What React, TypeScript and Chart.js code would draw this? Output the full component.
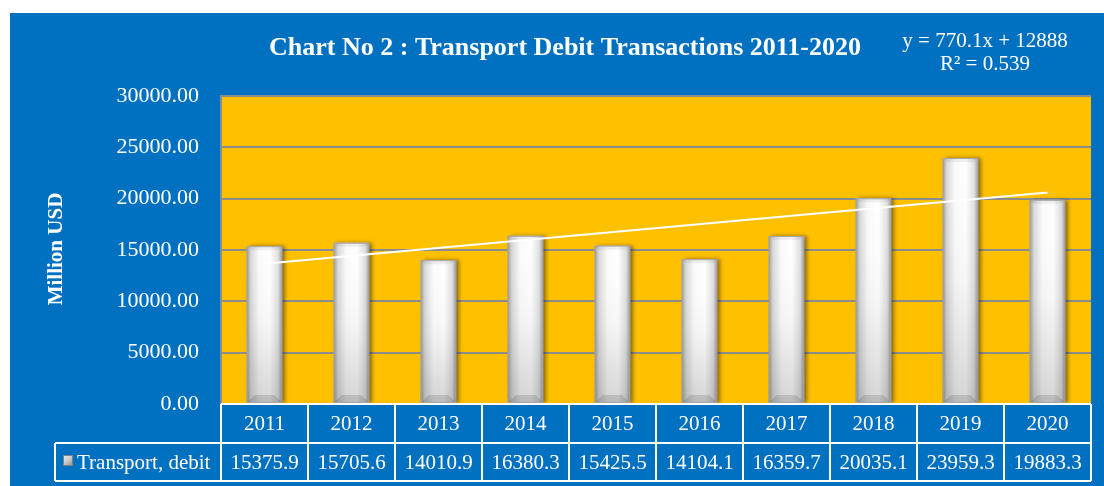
import React, { useEffect, useRef } from 'react';
import { Chart, registerables } from 'chart.js';

Chart.register(...registerables);

const categories = ['2011', '2012', '2013', '2014', '2015', '2016', '2017', '2018', '2019', '2020'];
const transportDebit = [15375.9, 15705.6, 14010.9, 16380.3, 15425.5, 14104.1, 16359.7, 20035.1, 23959.3, 19883.3];
const tableValues = ['15375.9', '15705.6', '14010.9', '16380.3', '15425.5', '14104.1', '16359.7', '20035.1', '23959.3', '19883.3'];
const trendPoints = [
  { x: '2011', y: 13658 },
  { x: '2020', y: 20589 },
];
const yMin = 0;
const yMax = 30000;
const yStep = 5000;
const chartTitle = 'Chart No 2 : Transport Debit Transactions 2011-2020';
const equationLines = ['y = 770.1x + 12888', 'R² = 0.539'];
const seriesName = 'Transport, debit';
const yAxisTitle = 'Million USD';

const BLUE = '#0070C0';
const YELLOW = '#FFC000';
const GRID = '#8c8c8c';
const FONT = '"Liberation Serif", "Times New Roman", serif';

const decorPlugin = {
  id: 'decor',
  beforeDraw(chart: any) {
    const { ctx, chartArea } = chart;
    ctx.save();
    ctx.fillStyle = BLUE;
    ctx.fillRect(10, 13, chart.width - 10, chart.height - 13);
    ctx.fillStyle = YELLOW;
    ctx.fillRect(chartArea.left, chartArea.top, chartArea.right - chartArea.left, chartArea.bottom - chartArea.top);
    ctx.restore();
  },
  beforeDatasetDraw(chart: any, args: any) {
    if (args.meta.type === 'bar') {
      const ctx = chart.ctx;
      ctx.save();
      ctx.shadowColor = 'rgba(0,0,0,0.45)';
      ctx.shadowBlur = 4;
      ctx.shadowOffsetX = 3;
      ctx.shadowOffsetY = 0;
    }
  },
  afterDatasetDraw(chart: any, args: any) {
    if (args.meta.type !== 'bar') return;
    const ctx = chart.ctx;
    ctx.restore();
    ctx.save();
    args.meta.data.forEach((el: any) => {
      const { x, y, base, width } = el.getProps(['x', 'y', 'base', 'width'], true);
      const left = x - width / 2;
      const h = base - y;
      const vg = ctx.createLinearGradient(0, y, 0, base);
      vg.addColorStop(0, 'rgba(255,255,255,0)');
      vg.addColorStop(0.5, 'rgba(0,0,0,0.03)');
      vg.addColorStop(1, 'rgba(0,0,0,0.16)');
      ctx.fillStyle = vg;
      ctx.fillRect(left, y, width, h);
      // bottom bevel
      const bv = 8;
      ctx.fillStyle = 'rgba(0,0,0,0.12)';
      ctx.beginPath();
      ctx.moveTo(left, base);
      ctx.lineTo(left + bv, base - bv);
      ctx.lineTo(left + width - bv, base - bv);
      ctx.lineTo(left + width, base);
      ctx.closePath();
      ctx.fill();
      // top bevel
      ctx.fillStyle = 'rgba(0,0,0,0.06)';
      ctx.beginPath();
      ctx.moveTo(left, y);
      ctx.lineTo(left + 4, y + 4);
      ctx.lineTo(left + width - 4, y + 4);
      ctx.lineTo(left + width, y);
      ctx.closePath();
      ctx.fill();
      ctx.strokeStyle = '#a6a6a6';
      ctx.lineWidth = 1;
      ctx.strokeRect(left + 0.5, y + 0.5, width - 1, h - 1);
    });
    ctx.restore();
  },
  afterDraw(chart: any) {
    const { ctx, chartArea } = chart;
    const xs = chart.scales.x;
    const n = categories.length;
    const step = (chartArea.right - chartArea.left) / n;
    const top = chartArea.bottom;
    const mid = top + 39;
    const bot = top + 77;
    const legendLeft = 55;
    ctx.save();
    // table lines
    ctx.strokeStyle = '#ffffff';
    ctx.lineWidth = 2;
    ctx.beginPath();
    ctx.moveTo(chartArea.left, top);
    ctx.lineTo(chartArea.right, top);
    ctx.moveTo(legendLeft, mid);
    ctx.lineTo(chartArea.right, mid);
    ctx.moveTo(legendLeft, bot);
    ctx.lineTo(chartArea.right, bot);
    for (let i = 0; i <= n; i++) {
      const xx = chartArea.left + i * step;
      ctx.moveTo(xx, top);
      ctx.lineTo(xx, bot);
    }
    ctx.moveTo(legendLeft, mid);
    ctx.lineTo(legendLeft, bot);
    ctx.stroke();

    ctx.fillStyle = '#ffffff';
    ctx.font = `21px ${FONT}`;
    ctx.textAlign = 'center';
    ctx.textBaseline = 'middle';
    categories.forEach((c, i) => {
      const cx = xs.getPixelForValue(i);
      ctx.fillText(c, cx, (top + mid) / 2 + 1);
      ctx.fillText(tableValues[i], cx, (mid + bot) / 2 + 1);
    });

    // legend marker
    const mg = ctx.createLinearGradient(63, 455, 73, 466);
    mg.addColorStop(0, '#f2f2f2');
    mg.addColorStop(0.5, '#c8c8c8');
    mg.addColorStop(1, '#8c8c8c');
    ctx.fillStyle = mg;
    ctx.fillRect(63, 455, 10, 11);
    ctx.strokeStyle = '#7f7f7f';
    ctx.lineWidth = 1;
    ctx.strokeRect(63.5, 455.5, 9, 10);
    ctx.fillStyle = '#ffffff';
    ctx.textAlign = 'left';
    ctx.fillText(seriesName, 77, (mid + bot) / 2 + 1);

    // title
    ctx.font = `bold 26px ${FONT}`;
    ctx.textAlign = 'center';
    ctx.fillText(chartTitle, 565, 48);

    // equation
    ctx.font = `21px ${FONT}`;
    ctx.fillText(equationLines[0], 985, 41);
    ctx.fillText(equationLines[1], 985, 64);

    // y-axis title
    ctx.save();
    ctx.translate(57, 249);
    ctx.rotate(-Math.PI / 2);
    ctx.font = `bold 21px ${FONT}`;
    ctx.fillText(yAxisTitle, 0, 0);
    ctx.restore();

    ctx.restore();
  },
};

export default function App() {
  const canvasRef = useRef<HTMLCanvasElement | null>(null);

  useEffect(() => {
    if (!canvasRef.current) return;
    Chart.defaults.font.family = FONT;
    const chart = new Chart(canvasRef.current, {
      type: 'bar',
      data: {
        labels: categories,
        datasets: [
          {
            type: 'line',
            label: 'Trend',
            data: trendPoints as any,
            borderColor: '#ffffff',
            borderWidth: 2,
            pointRadius: 0,
            fill: false,
            order: 0,
          } as any,
          {
            type: 'bar',
            label: seriesName,
            data: transportDebit,
            order: 1,
            barPercentage: 0.41,
            categoryPercentage: 1,
            borderWidth: 0,
            backgroundColor: (c: any) => {
              const ch = c.chart;
              if (!ch.chartArea || c.dataIndex == null) return '#f0f0f0';
              const xs = ch.scales.x;
              const cx = xs.getPixelForValue(c.dataIndex);
              const w = ((ch.chartArea.right - ch.chartArea.left) / categories.length) * 0.41;
              const g = ch.ctx.createLinearGradient(cx - w / 2, 0, cx + w / 2, 0);
              g.addColorStop(0, '#9a9a9a');
              g.addColorStop(0.12, '#d9d9d9');
              g.addColorStop(0.35, '#fafafa');
              g.addColorStop(0.65, '#ffffff');
              g.addColorStop(0.88, '#e0e0e0');
              g.addColorStop(1, '#9a9a9a');
              return g;
            },
          },
        ],
      },
      options: {
        responsive: false,
        animation: false,
        layout: { padding: { left: 0, top: 96, right: 13, bottom: 82 } },
        plugins: {
          legend: { display: false },
          title: { display: false },
          tooltip: { enabled: false },
        },
        scales: {
          x: {
            display: false,
          },
          y: {
            min: yMin,
            max: yMax,
            ticks: {
              stepSize: yStep,
              color: '#ffffff',
              padding: 22,
              font: { size: 22, family: FONT },
              callback: (v: any) => Number(v).toFixed(2),
            },
            grid: {
              color: GRID,
              lineWidth: 2,
              drawTicks: false,
            },
            border: { display: true, color: GRID, width: 2 },
            afterFit: (scale: any) => {
              scale.width = 221;
            },
          },
        },
      },
      plugins: [decorPlugin],
    });
    return () => chart.destroy();
  }, []);

  return (
    <div style={{ position: 'absolute', left: 0, top: 0, width: 1104, height: 486 }}>
      <canvas ref={canvasRef} width={1104} height={486} style={{ display: 'block' }} />
    </div>
  );
}
